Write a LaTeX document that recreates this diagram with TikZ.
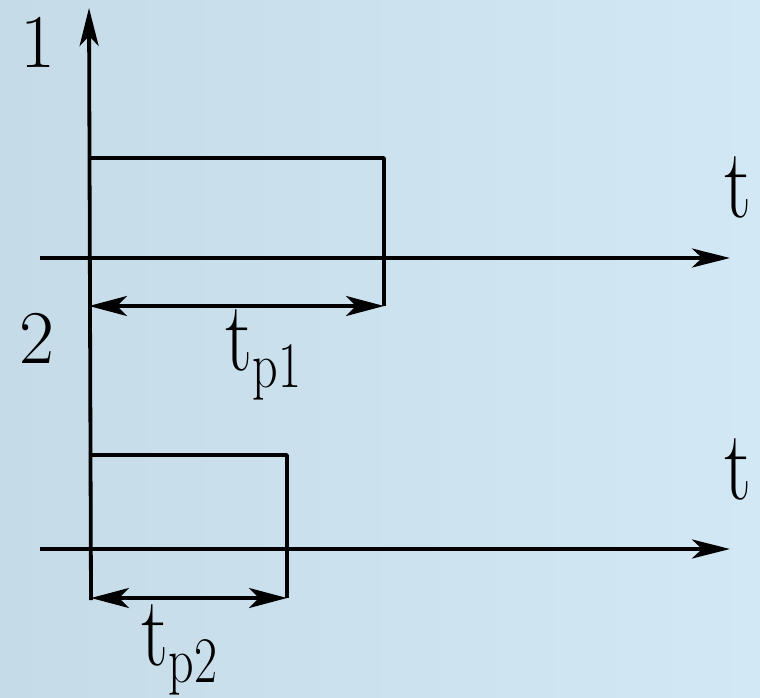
\documentclass[tikz,border=0pt]{standalone}
\usetikzlibrary{arrows.meta}
\definecolor{bgleft}{RGB}{198,219,232}
\definecolor{bgright}{RGB}{210,232,245}
\newcommand{\subtxt}[1]{{\fontsize{50}{54}\selectfont\raisebox{-13pt}{#1}}}
\begin{document}
\begin{tikzpicture}[x=1pt,y=-1pt, line width=3.8pt, line join=round,
  axis/.style={-{Stealth[length=38pt,width=19pt,inset=10pt]}},
  dim/.style={{Stealth[length=38pt,width=20pt,inset=10pt]}-{Stealth[length=38pt,width=20pt,inset=10pt]}},
  lbl/.style={font=\fontsize{76}{80}\selectfont, inner sep=0pt},
  tlbl/.style={font=\fontsize{76}{80}\selectfont, inner sep=0pt, yscale=1.3, transform shape}]
\shade[left color=bgleft, right color=bgright] (0,0) rectangle (760,698);
\useasboundingbox (0,0) rectangle (760,698);
% coordinates
\coordinate (ytop) at (89,8);
\coordinate (ybot) at (91,600);
\coordinate (p1tl) at (89,158);
\coordinate (p1tr) at (384,158);
\coordinate (p1bl) at (89,306);
\coordinate (p1br) at (384,306);
\coordinate (a1l) at (40,258);
\coordinate (a1r) at (730,258);
\coordinate (p2tl) at (91,455);
\coordinate (p2tr) at (287,455);
\coordinate (p2bl) at (91,598);
\coordinate (p2br) at (287,598);
\coordinate (a2l) at (40,549);
\coordinate (a2r) at (730,549);
% axes
\draw[axis] (ybot) -- (ytop);
\draw[axis] (a1l) -- (a1r);
\draw[axis] (a2l) -- (a2r);
% pulses
\draw (p1tl) -- (p1tr) -- (p1br);
\draw (p2tl) -- (p2tr) -- (p2br);
% durations
\draw[dim] (p1bl) -- (p1br);
\draw[dim] (p2bl) -- (p2br);
% labels
\node[lbl] (n1) at (38,42) {1};
\node[lbl] (n2) at (37,338) {2};
\node[tlbl] (t1) at (738,188) {t};
\node[tlbl] (t2) at (738,470) {t};
\node[tlbl, anchor=west] (tp1) at (224,355) {t\subtxt{p1}};
\node[tlbl, anchor=west] (tp2) at (140,650) {t\subtxt{p2}};
\end{tikzpicture}
\end{document}
